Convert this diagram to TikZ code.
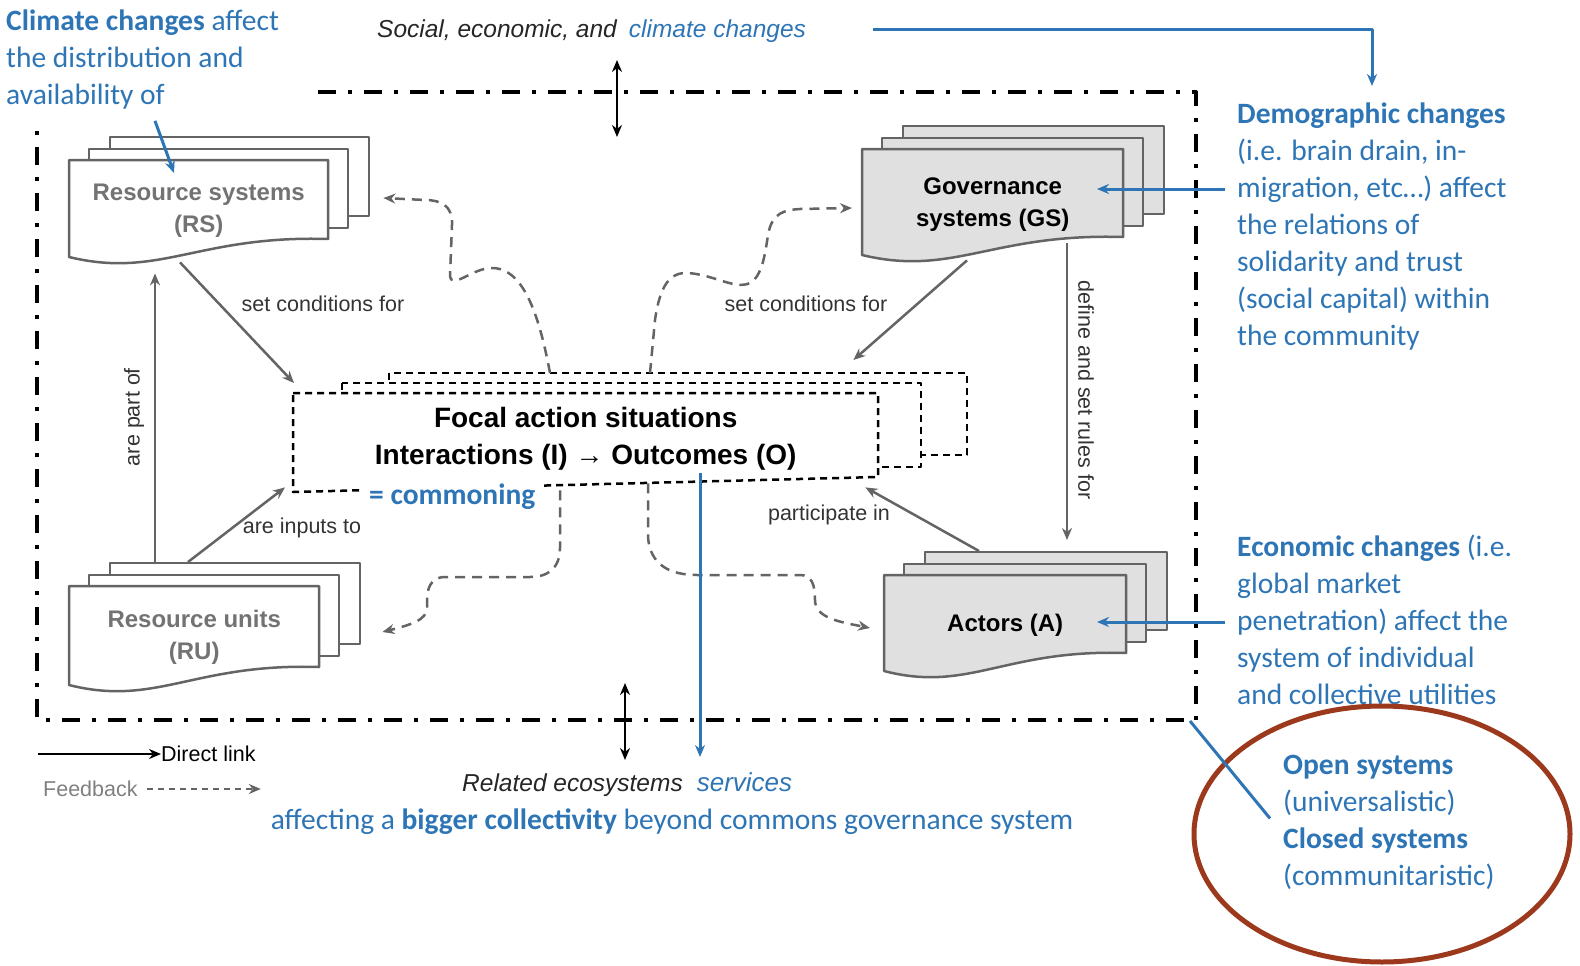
\documentclass[tikz,border=0pt]{standalone}
\usepackage{fontspec}
\setmainfont{Liberation Sans}
\newfontfamily\notefont{Carlito}
\usetikzlibrary{arrows.meta}
\usetikzlibrary{positioning}
\usetikzlibrary{calc}
\definecolor{noteblue}{RGB}{46,117,182}
\definecolor{linkgray}{RGB}{100,100,100}
\definecolor{boxgray}{RGB}{224,224,224}
\definecolor{ovalred}{RGB}{156,56,28}
% stack of three sheets with a wavy bottom: name, x, y, width, height, fill, text colour, text
\newcommand{\docstack}[8]{%
  \foreach \dx/\dy in {41/23,20/11}
    \draw[docline,fill=#6] (#2+\dx,#3-\dy) rectangle ++(#4,#5);
  \draw[docline,fill=#6] (#2,#3) -- ++(#4,0) -- ++(0,#5)
    .. controls (#2+0.5*#4,#3+#5-4) and (#2+0.35*#4,#3+#5+40) .. (#2,#3+#5+18) -- cycle;
  \node[boxlabel,text=#7,minimum width=#4,minimum height=#5+22,anchor=north west] (#1) at (#2,#3) {#8};
}

\begin{document}
\begin{tikzpicture}[x=1pt,y=-1pt,>={Stealth[length=12pt,width=10pt]},line join=round]
\tikzstyle{docline}=[draw=linkgray,line width=2.5pt]
\tikzstyle{boxlabel}=[inner sep=0pt,align=center,font=\fontsize{24}{32}\selectfont\bfseries]
\tikzstyle{focaltxt}=[inner sep=0pt,align=center,font=\fontsize{28}{37}\selectfont\bfseries]
\tikzstyle{focalline}=[draw=black,line width=2.5pt,dash pattern=on 7pt off 5pt,fill=white]
\tikzstyle{link}=[->,draw=linkgray,line width=2.5pt]
\tikzstyle{feedback}=[->,draw=linkgray,line width=2.5pt,dash pattern=on 10pt off 7pt]
\tikzstyle{lbl}=[text=black!80,font=\fontsize{21.5}{24}\selectfont,inner sep=0pt]
\tikzstyle{framedash}=[line width=4pt,dash pattern=on 18pt off 12pt on 4pt off 12pt]
\tikzstyle{bluelink}=[draw=noteblue,line width=3pt]
\tikzstyle{note}=[text=noteblue,align=left,inner sep=0pt,font=\notefont\fontsize{29.5}{37}\selectfont]
\tikzstyle{ital}=[inner sep=0pt,font=\fontsize{24.5}{28}\selectfont\itshape]

\useasboundingbox (0,0) rectangle (1580,966);

% system boundary
\draw[framedash] (318,92) -- (1196,92) -- (1196,720) -- (37,720) -- (37,123);

% focal action situations
\draw[focalline] (389,373) rectangle (967,455);
\draw[focalline] (342,383) rectangle (921,467);
\draw[focalline] (293,393) -- (878,393) -- (878,477) -- (293,492) -- cycle;
\node[focaltxt,minimum width=585,minimum height=92,anchor=north west] (focal) at (293,393) {Focal action situations\\Interactions (I) → Outcomes (O)};
\node[note,anchor=west,fill=white,inner xsep=6pt] (commoning) at (363,497) {\bfseries = commoning};

% the four subsystems
\docstack{rs}{69}{160}{259}{79}{white}{black!55}{Resource systems\\(RS)}
\docstack{ru}{69}{586}{250}{81}{white}{black!55}{Resource units\\(RU)}
\docstack{gs}{862}{149}{261}{88}{boxgray}{black}{Governance\\systems (GS)}
\docstack{act}{884}{575}{242}{78}{boxgray}{black}{Actors (A)}

% direct links
\draw[link] ($(rs.south west)+(111,1)$) -- ($(focal.north west)+(1,-10)$);
\node[lbl] (setrs) at (323,304) {set conditions for};
\draw[link] ($(gs.south west)+(105,1)$) -- ($(focal.north east)+(-25,-33)$);
\node[lbl] (setgs) at (806,304) {set conditions for};
\draw[link] ($(gs.south west)+(205,-16)$) -- ($(act.north west)+(183,-35)$);
\node[lbl,rotate=-90] (rules) at (1086,390) {define and set rules for};
\draw[link] ($(act.north west)+(95,-24)$) -- ($(focal.south east)+(-13,2)$);
\node[lbl] (partin) at (829,515) {participate in};
\draw[link] ($(ru.north west)+(86,-22)$) -- ($(rs.south west)+(86,12)$);
\node[lbl,rotate=90] (partof) at (134,417) {are part of};
\draw[link] ($(ru.north west)+(119,-24)$) -- ($(focal.south west)+(-8,2)$);
\node[lbl] (inputs) at (302,528) {are inputs to};

% feedbacks
\draw[feedback] ($(focal.north west)+(257,-20)$) .. controls (540,320) and (525,268) .. (492,268)
  .. controls (472,268) and (452,290) .. (450,276) -- (452,225)
  .. controls (453,205) and (440,200) .. (425,200) -- ($(rs.north east)+(55,38)$);
\draw[feedback] ($(focal.north west)+(357,-20)$) -- (655,320) .. controls (660,285) and (670,272) .. (688,273)
  .. controls (715,275) and (735,290) .. (750,283) .. controls (762,276) and (765,255) .. (768,235)
  .. controls (772,212) and (785,210) .. (800,209) -- ($(gs.north west)+(-10,59)$);
\draw[feedback] ($(focal.south west)+(267,5)$) -- (560,548) .. controls (560,568) and (548,577) .. (530,577)
  -- (445,577) .. controls (430,577) and (427,590) .. (427,600) -- (427,608)
  .. controls (427,620) and (410,625) .. ($(ru.north east)+(63,46)$);
\draw[feedback] ($(focal.south west)+(355,-2)$) -- (648,537) .. controls (650,565) and (670,575) .. (697,575)
  -- (800,575) .. controls (812,575) and (815,585) .. (815,600)
  .. controls (815,618) and (840,622) .. ($(act.north west)+(-14,53)$);

% outer context
\node[ital,anchor=west,text=black!85] (social) at (377,31) {Social, economic, and\hspace{12pt}\textcolor{noteblue}{climate changes}};
\node[ital,anchor=west,text=black!85] (related) at (462,785) {Related ecosystems\hspace{14pt}\textcolor{noteblue}{\fontsize{26}{28}\selectfont services}};
\draw[<->,line width=2pt] (617,60) -- (617,137);
\draw[<->,line width=2pt] (625,683) -- (625,760);

% notes
\node[note,anchor=north west] (topnote) at (6,10) {\textbf{Climate changes} affect\\the distribution and\\availability of};
\node[note,anchor=north west] (demo) at (1237,103) {\textbf{Demographic changes}\\(i.e. brain drain, in-\\migration, etc…) affect\\the relations of\\solidarity and trust\\(social capital) within\\the community};
\node[note,anchor=north west] (econ) at (1237,535) {\textbf{Economic changes} (i.e.\\global market\\penetration) affect the\\system of individual\\and collective utilities};
\node[note,anchor=north west] (opensys) at (1283,755) {\textbf{Open systems}\\(universalistic)\\\textbf{Closed systems}\\(communitaristic)};
\node[note,anchor=base] (bigger) at (672,829) {affecting a \textbf{bigger collectivity} beyond commons governance system};
\draw[ovalred,line width=5pt] (1382,834) ellipse [x radius=188, y radius=128];

\draw[bluelink,->] ($(topnote.south west)+(149,11)$) -- ($(rs.north west)+(105,13)$);
\draw[bluelink,->] ($(social.east)+(67,-1)$) -| ($(demo.north west)+(135,-17)$);
\draw[bluelink,->] (1225,189) -- ($(gs.north west)+(235,40)$);
\draw[bluelink,->] (1225,622) -- ($(act.north west)+(213,47)$);
\coordinate (svc) at (700,757);
\draw[bluelink,->] ($(focal.south west)+(407,-12)$) -- (svc);
\coordinate (corner) at (1190,721);
\draw[bluelink] (corner) -- ($(opensys.west)+(-13,-4)$);

% legend
\node[lbl,text=black,anchor=west] (direct) at (161,754) {Direct link};
\draw[->,line width=2pt] ($(direct.west)+(-123,0)$) -- (direct.west);
\node[lbl,text=black!50,anchor=west] (fb) at (43,789) {Feedback};
\draw[feedback,line width=2pt,dash pattern=on 6pt off 5pt] ($(fb.east)+(9,0)$) -- ++(114,0);
\end{tikzpicture}
\end{document}
